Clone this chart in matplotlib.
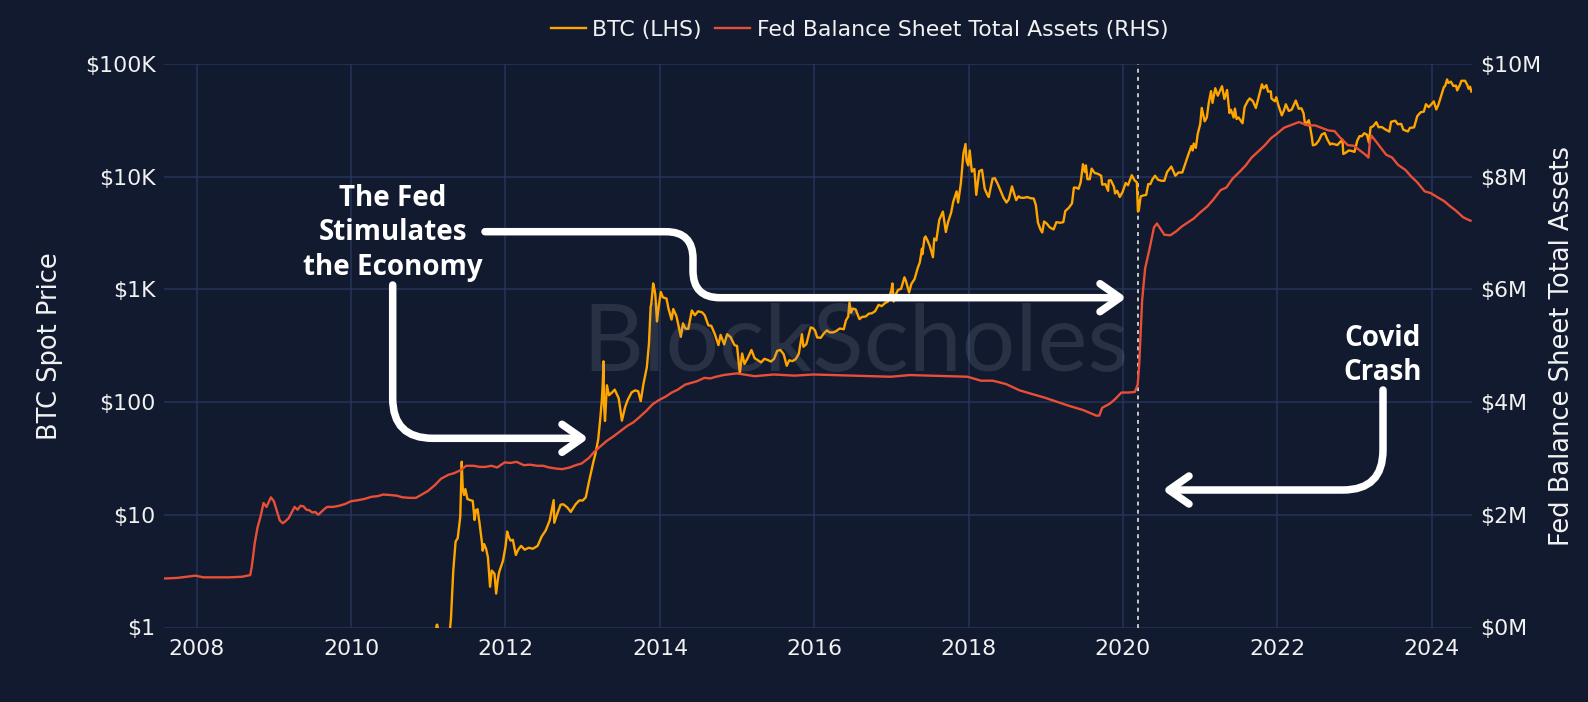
import matplotlib
matplotlib.use("Agg")
import matplotlib.pyplot as plt
from matplotlib.path import Path
from matplotlib.patches import PathPatch
import pandas as pd

# ---------------- data ----------------
btc_dates = [
    "2010-07-18", "2010-10-01", "2010-11-07", "2010-12-01", "2011-01-01", "2011-02-01", "2011-02-09",
    "2011-02-12", "2011-02-16", "2011-03-01", "2011-04-01", "2011-04-13", "2011-04-18", "2011-04-29",
    "2011-05-10", "2011-05-20", "2011-06-01", "2011-06-05", "2011-06-08", "2011-06-10", "2011-06-13",
    "2011-06-19", "2011-06-25", "2011-07-05", "2011-07-18", "2011-07-30", "2011-08-08", "2011-08-14",
    "2011-08-22", "2011-09-01", "2011-09-11", "2011-09-15", "2011-09-22", "2011-10-01", "2011-10-10",
    "2011-10-20", "2011-10-28", "2011-11-10", "2011-11-18", "2011-11-25", "2011-12-02", "2011-12-20",
    "2012-01-01", "2012-01-09", "2012-01-16", "2012-01-25", "2012-02-05", "2012-02-19", "2012-03-01",
    "2012-03-15", "2012-04-01", "2012-04-20", "2012-05-10", "2012-06-01", "2012-06-20", "2012-07-10",
    "2012-07-28", "2012-08-16", "2012-08-19", "2012-09-01", "2012-09-18", "2012-10-01", "2012-10-20",
    "2012-11-05", "2012-11-28", "2012-12-15", "2013-01-01", "2013-01-15", "2013-02-01", "2013-02-20",
    "2013-03-01", "2013-03-15", "2013-03-25", "2013-04-01", "2013-04-05", "2013-04-09", "2013-04-11",
    "2013-04-16", "2013-04-25", "2013-05-05", "2013-05-20", "2013-06-01", "2013-06-20", "2013-07-05",
    "2013-07-20", "2013-08-01", "2013-08-20", "2013-09-05", "2013-09-20", "2013-10-02", "2013-10-15",
    "2013-10-31", "2013-11-10", "2013-11-18", "2013-11-21", "2013-11-30", "2013-12-06", "2013-12-10",
    "2013-12-18", "2013-12-25", "2014-01-05", "2014-01-15", "2014-02-01", "2014-02-10", "2014-02-25",
    "2014-03-05", "2014-03-20", "2014-04-10", "2014-04-20", "2014-05-01", "2014-05-15", "2014-06-01",
    "2014-06-15", "2014-07-01", "2014-07-20", "2014-08-01", "2014-08-18", "2014-09-01", "2014-09-18",
    "2014-10-05", "2014-10-15", "2014-11-01", "2014-11-15", "2014-12-01", "2014-12-20", "2015-01-01",
    "2015-01-14", "2015-01-25", "2015-02-05", "2015-02-20", "2015-03-10", "2015-03-25", "2015-04-10",
    "2015-04-25", "2015-05-10", "2015-05-25", "2015-06-10", "2015-06-25", "2015-07-10", "2015-07-25",
    "2015-08-10", "2015-08-24", "2015-09-05", "2015-09-20", "2015-10-05", "2015-10-20", "2015-11-04",
    "2015-11-11", "2015-11-25", "2015-12-05", "2015-12-15", "2015-12-25", "2016-01-05", "2016-01-15",
    "2016-02-01", "2016-02-15", "2016-03-01", "2016-03-15", "2016-04-01", "2016-04-15", "2016-05-01",
    "2016-05-20", "2016-05-30", "2016-06-10", "2016-06-16", "2016-06-23", "2016-07-01", "2016-07-15",
    "2016-08-02", "2016-08-15", "2016-09-01", "2016-09-15", "2016-10-01", "2016-10-15", "2016-11-01",
    "2016-11-15", "2016-12-01", "2016-12-15", "2017-01-01", "2017-01-05", "2017-01-11", "2017-01-20",
    "2017-02-01", "2017-02-15", "2017-03-03", "2017-03-10", "2017-03-25", "2017-04-05", "2017-04-20",
    "2017-05-05", "2017-05-15", "2017-05-25", "2017-05-27", "2017-06-06", "2017-06-11", "2017-06-20",
    "2017-07-01", "2017-07-16", "2017-07-22", "2017-08-01", "2017-08-15", "2017-09-01", "2017-09-15",
    "2017-09-25", "2017-10-10", "2017-10-20", "2017-11-05", "2017-11-12", "2017-11-25", "2017-12-07",
    "2017-12-17", "2017-12-22", "2017-12-30", "2018-01-06", "2018-01-16", "2018-01-28", "2018-02-06",
    "2018-02-20", "2018-03-05", "2018-03-18", "2018-03-31", "2018-04-06", "2018-04-24", "2018-05-05",
    "2018-05-20", "2018-06-01", "2018-06-15", "2018-06-29", "2018-07-10", "2018-07-25", "2018-08-05",
    "2018-08-14", "2018-08-25", "2018-09-05", "2018-09-20", "2018-10-05", "2018-10-20", "2018-11-05",
    "2018-11-15", "2018-11-25", "2018-12-07", "2018-12-15", "2018-12-24", "2019-01-05", "2019-01-20",
    "2019-02-07", "2019-02-20", "2019-03-10", "2019-03-25", "2019-04-03", "2019-04-20", "2019-05-05",
    "2019-05-14", "2019-05-25", "2019-06-05", "2019-06-15", "2019-06-26", "2019-07-05", "2019-07-10",
    "2019-07-17", "2019-07-28", "2019-08-06", "2019-08-20", "2019-09-05", "2019-09-20", "2019-09-25",
    "2019-10-10", "2019-10-23", "2019-10-26", "2019-11-05", "2019-11-20", "2019-11-25", "2019-12-05",
    "2019-12-17", "2019-12-30", "2020-01-14", "2020-01-25", "2020-02-12", "2020-02-25", "2020-03-07",
    "2020-03-12", "2020-03-16", "2020-03-25", "2020-04-05", "2020-04-20", "2020-04-30", "2020-05-10",
    "2020-05-20", "2020-06-01", "2020-06-15", "2020-07-01", "2020-07-15", "2020-07-28", "2020-08-17",
    "2020-09-05", "2020-09-20", "2020-10-08", "2020-10-21", "2020-11-05", "2020-11-20", "2020-11-26",
    "2020-12-01", "2020-12-11", "2020-12-20", "2021-01-01", "2021-01-08", "2021-01-22", "2021-02-01",
    "2021-02-10", "2021-02-21", "2021-02-28", "2021-03-13", "2021-03-25", "2021-04-14", "2021-04-25",
    "2021-05-08", "2021-05-19", "2021-05-26", "2021-06-08", "2021-06-14", "2021-06-22", "2021-07-01",
    "2021-07-20", "2021-07-30", "2021-08-14", "2021-08-23", "2021-09-07", "2021-09-21", "2021-10-01",
    "2021-10-15", "2021-10-20", "2021-10-28", "2021-11-10", "2021-11-18", "2021-12-01", "2021-12-04",
    "2021-12-20", "2021-12-27", "2022-01-05", "2022-01-22", "2022-02-01", "2022-02-10", "2022-02-24",
    "2022-03-10", "2022-03-29", "2022-04-12", "2022-04-25", "2022-05-05", "2022-05-12", "2022-05-30",
    "2022-06-13", "2022-06-18", "2022-07-01", "2022-07-15", "2022-07-30", "2022-08-13", "2022-08-25",
    "2022-09-08", "2022-09-15", "2022-09-28", "2022-10-12", "2022-10-28", "2022-11-05", "2022-11-09",
    "2022-11-20", "2022-12-05", "2022-12-20", "2023-01-01", "2023-01-14", "2023-01-25", "2023-02-05",
    "2023-02-16", "2023-03-01", "2023-03-10", "2023-03-18", "2023-03-30", "2023-04-14", "2023-04-25",
    "2023-05-10", "2023-05-25", "2023-06-15", "2023-06-23", "2023-07-13", "2023-07-25", "2023-08-10",
    "2023-08-20", "2023-09-11", "2023-09-20", "2023-10-10", "2023-10-25", "2023-11-10", "2023-11-25",
    "2023-12-05", "2023-12-18", "2024-01-01", "2024-01-11", "2024-01-23", "2024-02-01", "2024-02-15",
    "2024-02-28", "2024-03-05", "2024-03-14", "2024-03-20", "2024-04-01", "2024-04-13", "2024-04-25",
    "2024-05-01", "2024-05-15", "2024-05-21", "2024-06-07", "2024-06-18", "2024-06-24", "2024-07-01",
    "2024-07-07",
]
btc_usd = [
    0.05, 0.06, 0.39, 0.21, 0.30, 0.72, 1.05,
    1.06, 0.96, 0.92, 0.78, 0.95, 1.2, 3.2,
    5.8, 6.2, 9.6, 18, 29.6, 23, 17,
    15, 16.9, 13.8, 13.5, 13.3, 9, 11,
    11.2, 8.2, 5.8, 4.8, 5.5, 5.0, 4.2,
    2.3, 3.2, 3.0, 2.0, 2.6, 3.1, 3.9,
    5.2, 7.1, 6.4, 5.9, 6.0, 4.4, 4.9,
    5.3, 4.9, 5.1, 5.0, 5.3, 6.4, 7.3,
    8.9, 13.5, 8.5, 10.1, 12.3, 12.4, 11.6,
    10.6, 12.4, 13.4, 13.4, 14.3, 20.4, 29.5,
    34.3, 46.9, 73, 104, 142, 230, 100,
    68, 141, 115, 122, 129, 108, 68.5,
    90, 104, 122, 127, 125, 102, 145,
    204, 330, 700, 740, 1130, 1000, 900,
    520, 680, 950, 850, 830, 680, 540,
    670, 580, 380, 500, 450, 445, 650,
    590, 640, 625, 590, 480, 475, 400,
    320, 395, 325, 400, 378, 320, 315,
    178, 270, 218, 245, 290, 245, 235,
    225, 242, 237, 229, 242, 285, 290,
    265, 210, 235, 231, 240, 268, 400,
    310, 327, 388, 460, 455, 432, 375,
    372, 405, 433, 415, 416, 428, 450,
    443, 530, 575, 765, 620, 675, 665,
    545, 570, 575, 608, 615, 640, 730,
    710, 755, 780, 998, 1130, 780, 895,
    990, 1010, 1280, 1190, 940, 1120, 1235,
    1550, 1740, 2300, 2050, 2870, 2950, 2720,
    2430, 1930, 2830, 2720, 4150, 4900, 3230,
    3930, 4800, 6000, 7400, 5900, 8700, 16000,
    19500, 13800, 12600, 17100, 11100, 11700, 6900,
    11200, 11500, 7800, 6900, 6600, 9600, 9700,
    8500, 7500, 6500, 5900, 6300, 8200, 7000,
    6200, 6700, 6500, 6500, 6600, 6450, 6400,
    5600, 3900, 3400, 3200, 4000, 3850, 3550,
    3400, 3950, 3900, 3950, 4950, 5300, 5800,
    8000, 8000, 7800, 8900, 12900, 11000, 12600,
    9500, 9500, 11800, 10800, 10600, 10200, 8500,
    8600, 7500, 9250, 9300, 8100, 7100, 7500,
    6600, 7300, 8800, 8400, 10300, 9300, 8900,
    4900, 5000, 6700, 6800, 6900, 8600, 8600,
    9500, 10200, 9400, 9200, 9200, 11000, 12300,
    10200, 10900, 10900, 12900, 15600, 18700, 17100,
    19700, 18000, 24000, 29400, 40800, 31000, 33500,
    44800, 57500, 45200, 61000, 52300, 63500, 49000,
    58800, 36700, 39300, 33500, 40200, 32500, 33600,
    29800, 41500, 47100, 49500, 46800, 40700, 48200,
    61600, 66000, 61000, 64900, 56900, 57200, 49400,
    46700, 50700, 43500, 35000, 38700, 43900, 38300,
    39400, 47400, 40100, 40400, 36500, 29000, 31700,
    22500, 19000, 19300, 20800, 23700, 24400, 21500,
    19300, 19700, 19400, 19100, 20600, 21300, 15900,
    16300, 17100, 16900, 16600, 20900, 22900, 22900,
    24300, 23600, 20100, 27400, 28000, 30500, 27500,
    27600, 26400, 25100, 30700, 31400, 29200, 29400,
    26100, 25200, 27100, 27400, 34500, 37300, 37800,
    44000, 41400, 44200, 46600, 39500, 43000, 52000,
    62500, 63800, 73000, 67900, 69700, 63800, 64300,
    58300, 66200, 71000, 71000, 65000, 60300, 62800,
    57000,
]

fed_dates = [
    "2007-08-01", "2007-10-01", "2007-12-26", "2008-02-01", "2008-04-01", "2008-06-01", "2008-08-01",
    "2008-09-10", "2008-09-17", "2008-09-24", "2008-10-01", "2008-10-15", "2008-10-29", "2008-11-12",
    "2008-11-26", "2008-12-17", "2008-12-31", "2009-01-14", "2009-01-28", "2009-02-11", "2009-02-25",
    "2009-03-11", "2009-03-25", "2009-04-08", "2009-04-22", "2009-05-06", "2009-05-20", "2009-06-03",
    "2009-06-17", "2009-07-01", "2009-07-15", "2009-07-29", "2009-08-12", "2009-08-26", "2009-09-09",
    "2009-10-07", "2009-11-04", "2009-12-02", "2009-12-30", "2010-02-03", "2010-03-03", "2010-04-07",
    "2010-05-05", "2010-06-02", "2010-07-07", "2010-08-04", "2010-09-01", "2010-10-06", "2010-11-03",
    "2010-12-01", "2010-12-29", "2011-02-02", "2011-03-02", "2011-04-06", "2011-05-04", "2011-06-01",
    "2011-06-29", "2011-08-03", "2011-08-31", "2011-09-28", "2011-10-26", "2011-11-23", "2011-12-28",
    "2012-01-25", "2012-02-22", "2012-03-28", "2012-04-25", "2012-05-30", "2012-06-27", "2012-07-25",
    "2012-08-29", "2012-09-26", "2012-10-31", "2012-11-28", "2012-12-26", "2013-01-30", "2013-02-27",
    "2013-03-27", "2013-04-24", "2013-05-29", "2013-06-26", "2013-07-31", "2013-08-28", "2013-09-25",
    "2013-10-30", "2013-11-27", "2013-12-25", "2014-01-29", "2014-02-26", "2014-03-26", "2014-04-30",
    "2014-05-28", "2014-06-25", "2014-07-30", "2014-08-27", "2014-09-24", "2014-10-29", "2014-12-31",
    "2015-03-25", "2015-06-24", "2015-09-30", "2015-12-30", "2016-03-30", "2016-06-29", "2016-09-28",
    "2016-12-28", "2017-03-29", "2017-06-28", "2017-09-27", "2017-12-27", "2018-02-28", "2018-04-25",
    "2018-06-27", "2018-08-29", "2018-10-31", "2018-12-26", "2019-02-27", "2019-04-24", "2019-06-26",
    "2019-08-28", "2019-09-11", "2019-09-25", "2019-10-30", "2019-11-27", "2019-12-25", "2020-01-29",
    "2020-02-26", "2020-03-04", "2020-03-11", "2020-03-18", "2020-03-25", "2020-04-01", "2020-04-15",
    "2020-05-06", "2020-05-27", "2020-06-10", "2020-06-24", "2020-07-15", "2020-08-12", "2020-09-09",
    "2020-10-07", "2020-11-04", "2020-12-02", "2020-12-30", "2021-02-03", "2021-03-03", "2021-04-07",
    "2021-05-05", "2021-06-02", "2021-07-07", "2021-08-04", "2021-09-01", "2021-10-06", "2021-11-03",
    "2021-12-01", "2021-12-29", "2022-02-02", "2022-03-02", "2022-04-13", "2022-05-25", "2022-06-29",
    "2022-07-27", "2022-08-31", "2022-09-28", "2022-10-26", "2022-11-30", "2022-12-28", "2023-01-25",
    "2023-02-22", "2023-03-08", "2023-03-15", "2023-03-22", "2023-04-26", "2023-05-31", "2023-06-28",
    "2023-07-26", "2023-08-30", "2023-09-27", "2023-10-25", "2023-11-29", "2023-12-27", "2024-01-31",
    "2024-02-28", "2024-03-27", "2024-04-24", "2024-05-29", "2024-06-26", "2024-07-03",
]
fed_assets_m = [
    0.87, 0.88, 0.92, 0.89, 0.89, 0.89, 0.90,
    0.93, 1.07, 1.27, 1.49, 1.78, 1.97, 2.21,
    2.14, 2.31, 2.24, 2.07, 1.90, 1.85, 1.89,
    1.94, 2.04, 2.14, 2.09, 2.16, 2.15, 2.09,
    2.08, 2.04, 2.05, 2.00, 2.05, 2.10, 2.14,
    2.14, 2.16, 2.19, 2.24, 2.26, 2.28, 2.32,
    2.33, 2.36, 2.35, 2.34, 2.31, 2.30, 2.30,
    2.36, 2.42, 2.53, 2.64, 2.71, 2.74, 2.79,
    2.87, 2.87, 2.85, 2.85, 2.87, 2.84, 2.93,
    2.92, 2.94, 2.88, 2.89, 2.87, 2.87, 2.84,
    2.82, 2.81, 2.84, 2.88, 2.91, 3.01, 3.13,
    3.22, 3.31, 3.40, 3.48, 3.58, 3.64, 3.73,
    3.85, 3.96, 4.03, 4.10, 4.17, 4.22, 4.31,
    4.34, 4.37, 4.43, 4.42, 4.45, 4.48, 4.51,
    4.46, 4.49, 4.47, 4.49, 4.48, 4.47, 4.46,
    4.45, 4.48, 4.47, 4.46, 4.45, 4.38, 4.38,
    4.32, 4.21, 4.14, 4.08, 4.00, 3.93, 3.86,
    3.76, 3.76, 3.90, 3.97, 4.06, 4.17, 4.17,
    4.18, 4.24, 4.31, 4.67, 5.25, 5.81, 6.37,
    6.72, 7.10, 7.17, 7.09, 6.97, 6.96, 7.03,
    7.12, 7.19, 7.26, 7.36, 7.47, 7.59, 7.76,
    7.81, 7.96, 8.09, 8.20, 8.34, 8.46, 8.56,
    8.68, 8.76, 8.87, 8.91, 8.97, 8.91, 8.91,
    8.87, 8.82, 8.81, 8.69, 8.56, 8.55, 8.47,
    8.39, 8.34, 8.64, 8.73, 8.56, 8.39, 8.34,
    8.21, 8.12, 8.00, 7.90, 7.74, 7.71, 7.63,
    7.57, 7.48, 7.40, 7.28, 7.23, 7.22,
]

covid_date = "2020-03-12"
year_ticks = [2008, 2010, 2012, 2014, 2016, 2018, 2020, 2022, 2024]
btc_ticks = [1, 10, 100, 1000, 10000, 100000]
btc_tick_labels = ["$1", "$10", "$100", "$1K", "$10K", "$100K"]
fed_ticks = [0, 2, 4, 6, 8, 10]
fed_tick_labels = ["$0M", "$2M", "$4M", "$6M", "$8M", "$10M"]

# ---------------- style ----------------
W, H = 1588, 702
BG = "#111a2e"
GRID = "#25345a"
ORANGE = "#ffa500"
RED = "#e94f37"
TXT = "#f2f2f2"

fig = plt.figure(figsize=(W / 100, H / 100), dpi=100, facecolor=BG)
L, R, T, B = 164, 1472, 64, 627.5
ax = fig.add_axes([L / W, 1 - B / H, (R - L) / W, (B - T) / H])
ax.set_facecolor(BG)
ax2 = ax.twinx()
ax2.patch.set_visible(False)

bx = pd.to_datetime(btc_dates)
fx = pd.to_datetime(fed_dates)

l1, = ax.plot(bx, btc_usd, color=ORANGE, lw=1.7, label="BTC (LHS)")
l2, = ax2.plot(fx, fed_assets_m, color=RED, lw=1.7, label="Fed Balance Sheet Total Assets (RHS)")

ax.set_yscale("log")
ax.set_ylim(1, 100000)
ax2.set_ylim(0, 10)
ax.set_xlim(pd.Timestamp("2007-07-30"), pd.Timestamp("2024-07-10"))

ax.set_xticks([pd.Timestamp(f"{y}-01-01") for y in year_ticks])
ax.set_xticklabels([str(y) for y in year_ticks])
ax.set_yticks(btc_ticks)
ax.set_yticklabels(btc_tick_labels)
ax.yaxis.set_minor_locator(matplotlib.ticker.NullLocator())
ax2.set_yticks(fed_ticks)
ax2.set_yticklabels(fed_tick_labels)

for a in (ax, ax2):
    for s in a.spines.values():
        s.set_visible(False)
    a.tick_params(length=0, colors=TXT, labelsize=15.8)
ax.tick_params(axis="x", pad=8)
ax.tick_params(axis="y", pad=6)
ax2.tick_params(axis="y", pad=6)

ax.grid(True, color=GRID, lw=1.1)
ax.set_axisbelow(True)

ax.axvline(pd.Timestamp(covid_date), color="#c8c8c8", lw=1.4, ls=(0, (2, 2.2)), zorder=1)

ax.set_ylabel("BTC Spot Price", color=TXT, fontsize=18.5)
ax.yaxis.set_label_coords(-0.0772, 0.5)
ax2.set_ylabel("Fed Balance Sheet Total Assets", color=TXT, fontsize=18.5, rotation=90)
ax2.yaxis.set_label_coords(1.0589, 0.5)

fig.legend(handles=[l1, l2], loc="center", bbox_to_anchor=(859.5 / W, 1 - 30 / H), ncol=2,
           frameon=False, fontsize=15.8, labelcolor=TXT, handlelength=1.6, handletextpad=0.3,
           columnspacing=0.6)

# watermark
fig.text(855 / W, 1 - 345 / H, "BlockScholes", ha="center", va="center", fontsize=68,
         family="Lato", fontweight="normal", color="#a0a6b4", alpha=0.17, zorder=5)

# ---------------- annotations ----------------
def P(x, y):
    return (x / W, 1 - y / H)

def rounded(points, r):
    verts = [P(*points[0])]
    codes = [Path.MOVETO]
    for i in range(1, len(points) - 1):
        (x0, y0), (x1, y1), (x2, y2) = points[i - 1], points[i], points[i + 1]
        d1 = ((x1 - x0) ** 2 + (y1 - y0) ** 2) ** 0.5
        d2 = ((x2 - x1) ** 2 + (y2 - y1) ** 2) ** 0.5
        a = (x1 - (x1 - x0) / d1 * r, y1 - (y1 - y0) / d1 * r)
        b = (x1 + (x2 - x1) / d2 * r, y1 + (y2 - y1) / d2 * r)
        verts += [P(*a), P(x1, y1), P(*b)]
        codes += [Path.LINETO, Path.CURVE3, Path.CURVE3]
    verts.append(P(*points[-1]))
    codes.append(Path.LINETO)
    return Path(verts, codes)

def chevron(tip, direction):
    tx, ty = tip
    bx_ = tx - 20 * direction
    return Path([P(bx_, ty - 14), P(tx, ty), P(bx_, ty + 14)], [Path.MOVETO, Path.LINETO, Path.LINETO])

arrow_style = dict(fill=False, ec="white", lw=5.4, capstyle="round", joinstyle="round",
                   transform=fig.transFigure, zorder=10)

paths = [
    rounded([(485, 231.7), (693, 231.7), (693, 297.7), (1117, 297.7)], 27),
    chevron((1120, 297.7), 1),
    rounded([(392.7, 285), (392.7, 438.3), (579, 438.3)], 40),
    chevron((582, 438.3), 1),
    rounded([(1383, 390), (1383, 490), (1172, 490)], 40),
    chevron((1169, 490), -1),
]
for p in paths:
    fig.add_artist(PathPatch(p, **arrow_style))

fig.text(393 / W, 1 - 233 / H, "The Fed\nStimulates\nthe Economy", ha="center", va="center",
         fontsize=20, fontweight="bold", family="Open Sans", color="white", linespacing=1.25, zorder=11)
fig.text(1383 / W, 1 - 355.5 / H, "Covid\nCrash", ha="center", va="center",
         fontsize=20, fontweight="bold", family="Open Sans", color="white", linespacing=1.25, zorder=11)

fig.savefig("out.png", dpi=100, facecolor=BG)
